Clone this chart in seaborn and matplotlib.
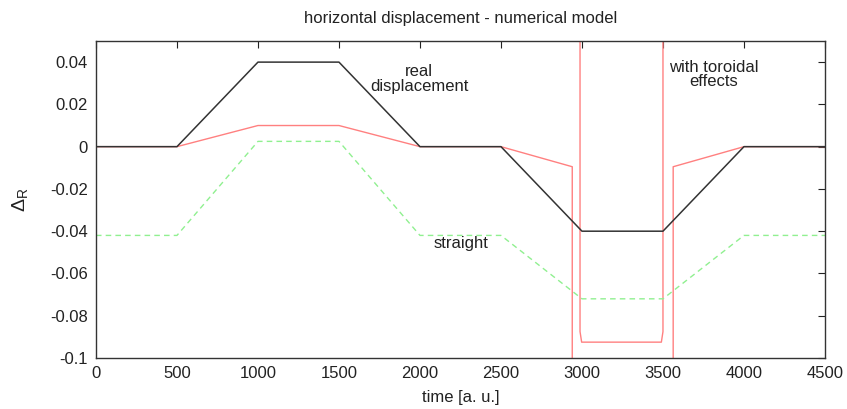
import pandas as pd
import matplotlib
matplotlib.use("Agg")
import matplotlib.pyplot as plt
import seaborn as sns

# real displacement (black)
real_t = [0, 500, 1000, 1500, 2000, 2500, 3000, 3500, 4000, 4500]
real_d = [0, 0, 0.04, 0.04, 0, 0, -0.04, -0.04, 0, 0]

# straight model (green dashed)
straight_t = [0, 500, 1000, 1500, 2000, 2500, 3000, 3500, 4000, 4500]
straight_d = [-0.042, -0.042, 0.0025, 0.0025, -0.042, -0.042, -0.072, -0.072, -0.042, -0.042]

# with toroidal effects (red) - three pieces, the jumps leave the plot range
toro_seg = [0, 0, 0, 0, 0, 0, 0, 0,
            1, 1, 1, 1, 1, 1,
            2, 2, 2, 2]
toro_t = [0, 500, 1000, 1500, 2000, 2500, 2940, 2940,
          2988, 2988, 2998, 3490, 3500, 3500,
          3563, 3563, 4000, 4500]
toro_d = [0, 0, 0.01, 0.01, 0, 0, -0.0095, -0.3,
          0.3, -0.0875, -0.0925, -0.0925, -0.0875, 0.3,
          -0.3, -0.0095, 0, 0]

xticks = [0, 500, 1000, 1500, 2000, 2500, 3000, 3500, 4000, 4500]
yticks = [-0.1, -0.08, -0.06, -0.04, -0.02, 0, 0.02, 0.04]
ytick_labels = ["-0.1", "-0.08", "-0.06", "-0.04", "-0.02", "0", "0.02", "0.04"]

sns.set_style("white")
plt.rcParams['font.family'] = ['Liberation Sans', 'DejaVu Sans']
plt.rcParams['mathtext.fontset'] = 'custom'
plt.rcParams['mathtext.rm'] = 'Liberation Sans'
plt.rcParams['mathtext.it'] = 'Liberation Sans'

df_real = pd.DataFrame({'t': real_t, 'd': real_d})
df_str = pd.DataFrame({'t': straight_t, 'd': straight_d})
df_tor = pd.DataFrame({'t': toro_t, 'd': toro_d, 'seg': toro_seg})

fig = plt.figure(figsize=(8.47, 4.09), dpi=100)
ax = fig.add_axes([0.1133, 0.1247, 0.8607, 0.7751])

sns.lineplot(x='t', y='d', data=df_tor, units='seg', estimator=None, sort=False,
             color='#ff8080', linewidth=1.0, ax=ax)
sns.lineplot(x='t', y='d', data=df_str, sort=False, color='#90f090',
             linewidth=1.0, linestyle=(0, (4, 3)), ax=ax)
sns.lineplot(x='t', y='d', data=df_real, sort=False, color='#333333',
             linewidth=1.1, ax=ax)

ax.set_xlim(0, 4500)
ax.set_ylim(-0.1, 0.05)
ax.set_xticks(xticks)
ax.set_yticks(yticks)
ax.set_yticklabels(ytick_labels)
ax.tick_params(direction='in', length=5, width=0.8, top=True, right=True,
               labelsize=12, colors='#222222', pad=6)
for s in ax.spines.values():
    s.set_color('#333333')
    s.set_linewidth(1.0)

ax.set_title('horizontal displacement - numerical model', fontsize=12, pad=13, color='#222222')
ax.set_xlabel('time [a. u.]', fontsize=12, color='#222222', labelpad=6)
ax.set_ylabel(r'$\Delta_R$', fontsize=14, color='#222222', labelpad=14)

ax.text(1994, 0.032, 'real\ndisplacement', fontsize=12, ha='center', va='center',
        linespacing=0.95, color='#222222')
ax.text(3815, 0.034, 'with toroidal\neffects', fontsize=12, ha='center', va='center',
        linespacing=0.95, color='#222222')
ax.text(2253, -0.046, 'straight', fontsize=12, ha='center', va='center', color='#222222')

plt.savefig('out.png', dpi=100)
